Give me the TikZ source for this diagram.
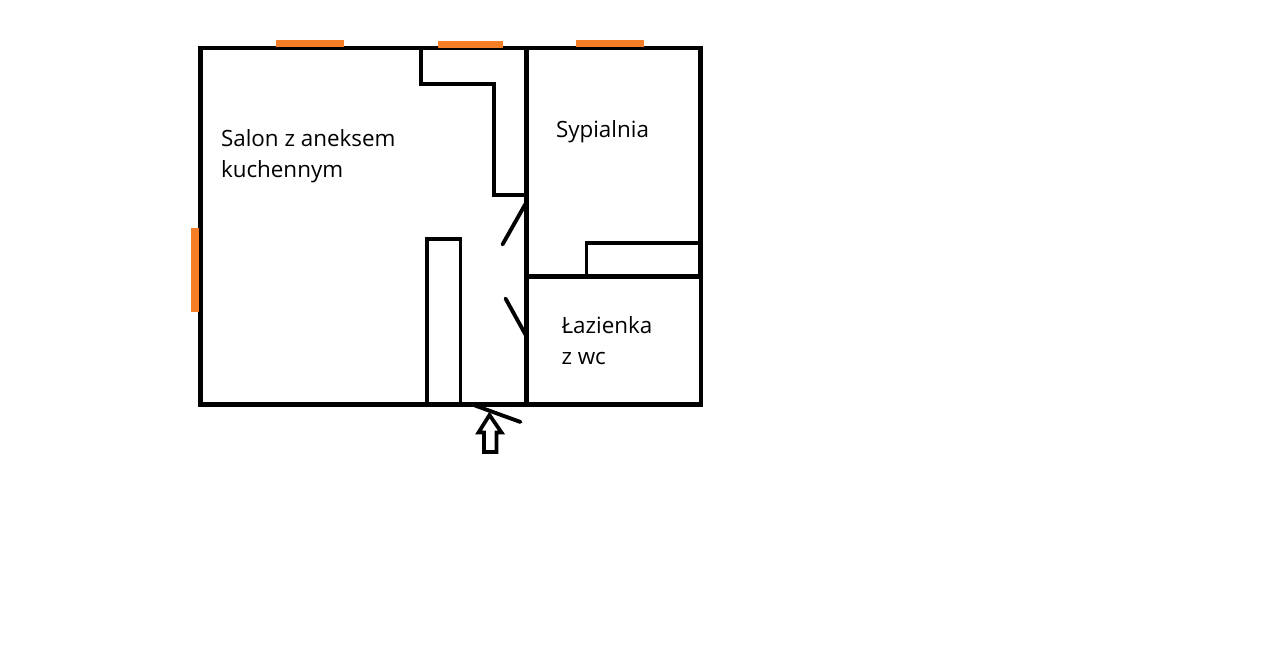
\documentclass[tikz,border=0pt]{standalone}
\usepackage{fontspec}
\setmainfont{Open Sans}
\definecolor{windoworange}{RGB}{245,126,38}
\tikzset{every picture/.style={line width=0.75pt},
  wall/.style={line width=3.3pt,line cap=rect},
  thinwall/.style={line width=2.9pt},
  windowbar/.style={windoworange,line width=5.4pt},
  roomlabel/.style={anchor=west,inner sep=0.75pt,font=\fontsize{16.8}{18}\selectfont}}
\begin{document}
\begin{tikzpicture}[x=0.75pt,y=0.75pt,yscale=-1,xscale=1]
\useasboundingbox (0,0) rectangle (1280,648);

%Outer walls
\draw [wall,line cap=butt] (198.5,48) -- (703,48) ;
\draw [wall] (200.5,48) -- (200.5,404.5) -- (701,404.5) ;
\draw [wall,line cap=butt] (701,406.5) -- (701,276) ;
\draw [wall,line width=3.9pt,line cap=butt] (700.5,46) -- (700.5,278) ;
\draw [wall,line cap=butt] (526.5,46) -- (526.5,406) ;
\draw [wall,line width=3.5pt,line cap=butt] (525,276.5) -- (702,276.5) ;

%Kitchen wall
\draw [thinwall] (421,48) -- (421,84) -- (494,84) -- (494,195) -- (526.5,195) ;
%Closet
\draw [thinwall] (586.5,276.5) -- (586.5,243) -- (700,243) ;
%Pillar
\draw [thinwall] (427,404.5) -- (427,239) -- (460.5,239) -- (460.5,404.5) ;

%Doors
\draw [thinwall,line cap=round] (526,203) -- (502.5,244.5) ;
\draw [thinwall,line cap=round] (526,335.5) -- (505.5,298.5) ;
\draw [thinwall,line cap=round] (475,405.5) -- (520.5,422) ;

%Entrance arrow
\draw [line width=2.8pt,line join=miter] (489.5,415) -- (478.5,432.5) -- (484,432.5) -- (484,452) -- (496.5,452) -- (496.5,432.5) -- (501.5,432.5) -- cycle ;

%Windows
\draw [windowbar] (275.5,43.5) -- (343.5,43.5) ;
\draw [windowbar] (437.5,44.5) -- (502.5,44.5) ;
\draw [windowbar] (575.5,43.8) -- (644,43.8) ;
\draw [windowbar] (195,228) -- (195,312.5) ;

% Text Node
\node [roomlabel] (salon) at (219.5,138) {Salon z aneksem};
% Text Node
\node [roomlabel] (kuchennym) at (219.5,172) {kuchennym};
% Text Node
\node [roomlabel] (sypialnia) at (554.5,131.5) {Sypialnia};
% Text Node
\node [roomlabel] (lazienka) at (560,325.5) {Łazienka};
% Text Node
\node [roomlabel] (zwc) at (560,359) {z wc};

\end{tikzpicture}
\end{document}
